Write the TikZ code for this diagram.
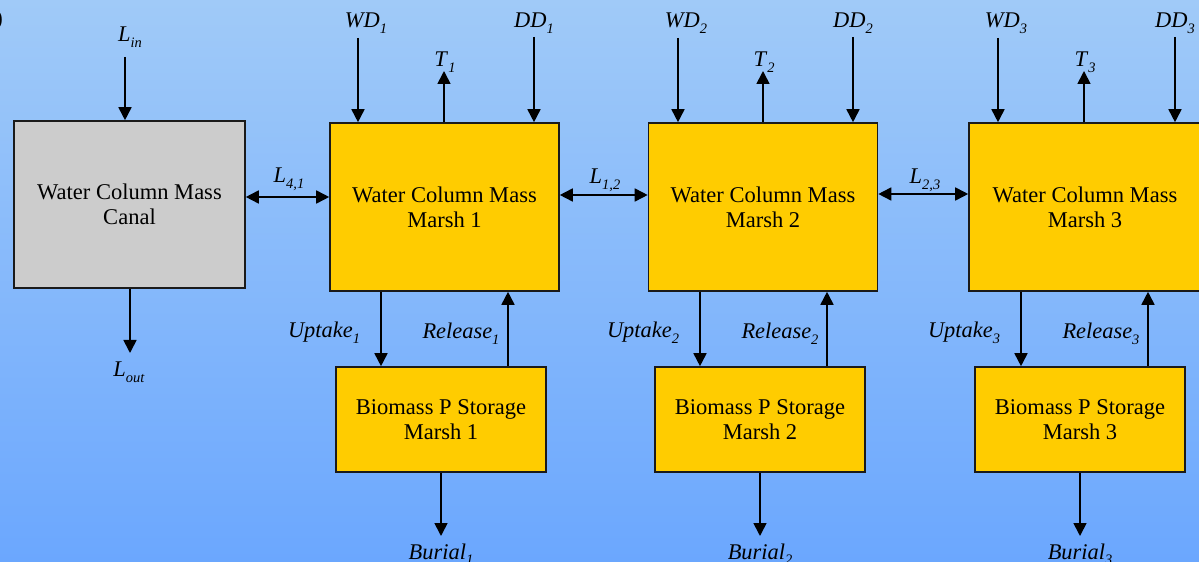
\documentclass[tikz,border=0pt]{standalone}
\usepackage{fontspec}
\setmainfont{Liberation Serif}
\usetikzlibrary{arrows.meta}

\definecolor{skytop}{HTML}{A0CAF8}
\definecolor{skybot}{HTML}{6BA7FE}
\definecolor{marshfill}{HTML}{FFCC00}
\definecolor{canalfill}{HTML}{CCCCCC}
\definecolor{edge}{HTML}{1A1A1A}

% italic flux symbol with a lowered italic index
\newcommand\flux[2]{\textit{#1}\raisebox{-0.25em}{\fontsize{14.5}{14.5}\selectfont\textit{#2}}}

\begin{document}
\begin{tikzpicture}[x=1bp,y=-1bp,
  box/.style={draw=edge, line width=1.6bp, align=center, inner sep=0pt,
              font=\fontsize{22.6}{25}\selectfont},
  canalbox/.style={box, fill=canalfill, minimum width=231bp, minimum height=167bp},
  marshbox/.style={box, fill=marshfill, minimum height=168bp},
  biobox/.style={box, fill=marshfill, minimum width=210bp, minimum height=105bp},
  flow/.style={draw=black, line width=1.7bp, -{Triangle[width=13bp,length=13bp]}},
  exch/.style={draw=black, line width=1.7bp,
               {Triangle[width=13bp,length=13bp]}-{Triangle[width=13bp,length=13bp]}},
  lbl/.style={font=\fontsize{22.5}{22.5}\selectfont, inner sep=0pt, anchor=base}
]
% frame and sky-blue backdrop
\clip (0,0) rectangle (1199,562);
\shade[top color=skytop, bottom color=skybot] (0,0) rectangle (1199,562);
\node[lbl, anchor=base east] (edgemark) at (3,26) {)};

% canal compartment
\node[canalbox] (canal) at (129.5,204.5) {Water Column Mass\\Canal};
\coordinate (linstart) at (125,57);
\coordinate (loutend) at (130,353);
\draw[flow] (linstart) -- (linstart |- canal.north);
\draw[flow] (loutend |- canal.south) -- (loutend);
\node[lbl] (lin) at (130,42) {\flux{L}{in}};
\node[lbl] (lout) at (129,377) {\flux{L}{out}};

% marsh compartments: water column, biomass storage and their fluxes
\foreach \i/\mx/\bw/\wx/\tx/\dx/\ux/\rx/\bx in {
    1/444.5/229/358/444/534/381/508/441,
    2/763/229/678/763/853/700/827/760,
    3/1085/232/998/1084/1175/1021/1148/1080}{
  \node[marshbox, minimum width=\bw bp] (m\i) at (\mx,207) {Water Column Mass\\Marsh \i};
  \node[biobox] (b\i) at (\bx,419.5) {Biomass P Storage\\Marsh \i};
  % atmospheric inputs and transpiration
  \coordinate (wd\i) at (\wx,38);
  \coordinate (dd\i) at (\dx,37);
  \coordinate (t\i) at (\tx,71);
  \draw[flow] (wd\i) -- (wd\i |- m\i.north);
  \draw[flow] (dd\i) -- (dd\i |- m\i.north);
  \draw[flow] (t\i |- m\i.north) -- (t\i);
  \node[lbl] (wdl\i) at (\wx+8,28) {\flux{WD}{\i}};
  \node[lbl] (ddl\i) at (\dx,28) {\flux{DD}{\i}};
  \node[lbl] (tl\i) at (\tx+1,67) {\flux{T}{\i}};
  % exchange with the plant biomass
  \coordinate (up\i) at (\ux,0);
  \coordinate (rel\i) at (\rx,0);
  \draw[flow] (up\i |- m\i.south) -- (up\i |- b\i.north);
  \draw[flow] (rel\i |- b\i.north) -- (rel\i |- m\i.south);
  \node[lbl] (upl\i) at (\ux-57,338) {\flux{Uptake}{\i}};
  \node[lbl] (rell\i) at (\rx-47,339) {\flux{Release}{\i}};
  % burial loss
  \coordinate (bur\i) at (\bx,536);
  \draw[flow] (bur\i |- b\i.south) -- (bur\i);
  \node[lbl] (burl\i) at (\bx,559) {\flux{Burial}{\i}};
}

% lateral exchanges between compartments
\draw[exch] (canal.east |- 0,197) -- (m1.west |- 0,197);
\draw[exch] (m1.east |- 0,195) -- (m2.west |- 0,195);
\draw[exch] (m2.east |- 0,194) -- (m3.west |- 0,194);
\node[lbl] (l41) at (289,183) {\flux{L}{4,1}};
\node[lbl] (l12) at (605,184) {\flux{L}{1,2}};
\node[lbl] (l23) at (925,184) {\flux{L}{2,3}};
\end{tikzpicture}
\end{document}
